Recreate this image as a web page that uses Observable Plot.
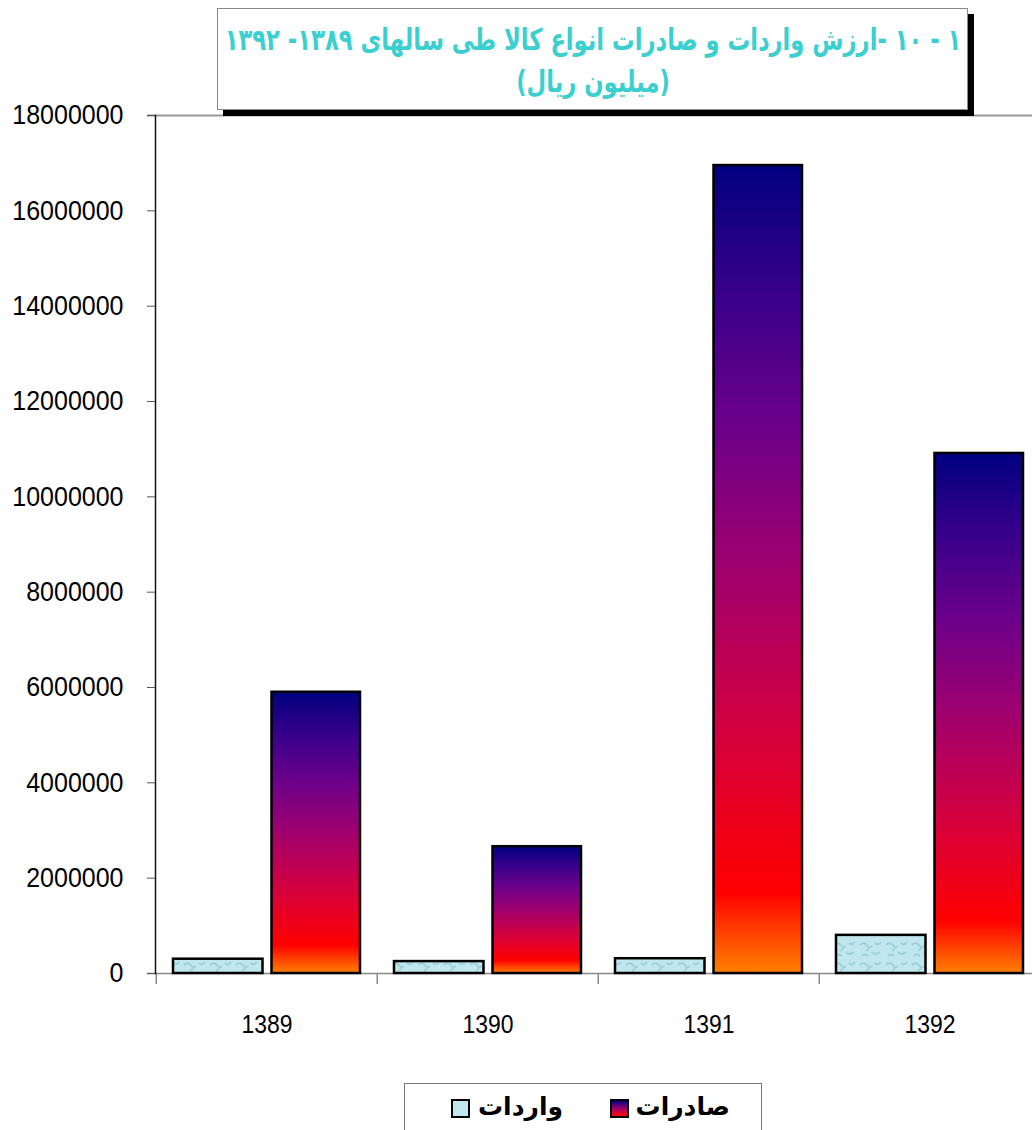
<!DOCTYPE html>
<html lang="fa">
<head>
<meta charset="utf-8">
<script src="https://cdn.jsdelivr.net/npm/d3@7"></script>
<script src="https://cdn.jsdelivr.net/npm/@observablehq/plot@0.6"></script>
<style>
  html, body { margin: 0; padding: 0; background: #fff; overflow: hidden; }
  #page { position: relative; width: 1032px; height: 1130px; }
  #chart { position: absolute; left: 0; top: 0; }
  #title {
    position: absolute; left: 217px; top: 8px; width: 751px; height: 102px;
    border: 1.5px solid #8a8a8a; background: #fff; box-shadow: 6px 6px 0 #000;
    color: #3ccfcf; font-family: "DejaVu Sans", sans-serif; font-weight: bold;
    font-size: 30px; direction: rtl; box-sizing: border-box;
  }
  #title .ln { position: absolute; left: 50%; white-space: nowrap; line-height: 1;
    transform: translate(-50%, -50%) scaleX(0.755); }
  #legend {
    position: absolute; left: 404px; top: 1083px; width: 358px; height: 70px;
    border: 1.5px solid #777; background: #fff; box-sizing: border-box;
    font-family: "DejaVu Sans", sans-serif; font-weight: bold; font-size: 25px; color: #000;
  }
  .lg-item { position: absolute; top: 8px; direction: rtl; white-space: nowrap; }
  .sw { position: absolute; width: 15px; height: 15px; border: 2px solid #000; top: 15px; }
</style>
</head>
<body>
<div id="page">
  <div id="chart"></div>
  <div id="title"></div>
  <div id="legend"></div>
</div>
<script>
// ---- data ----
const years = ["1389", "1390", "1391", "1392"];
const importsValues = [300000, 250000, 310000, 800000];      // واردات
const exportsValues = [5900000, 2660000, 16950000, 10910000]; // صادرات
const yTicks = [0, 2000000, 4000000, 6000000, 8000000, 10000000, 12000000, 14000000, 16000000, 18000000];
const seriesNames = ["واردات", "صادرات"];
const titleLine1 = "۱ - ۱۰ -ارزش واردات و صادرات انواع کالا طی سالهای ۱۳۸۹- ۱۳۹۲";
const titleLine2 = "(میلیون ریال)";

const importsRows = years.map((y, i) => ({year: y, series: seriesNames[0], value: importsValues[i]}));
const exportsRows = years.map((y, i) => ({year: y, series: seriesNames[1], value: exportsValues[i]}));

const bandStep = (1041 - 155) / years.length;

const defs = () => {
  const d = d3.create("svg:defs");
  const g = d.append("linearGradient").attr("id", "expGrad")
    .attr("x1", 0).attr("y1", 1).attr("x2", 0).attr("y2", 0);
  [[0, "#ff8000"], [0.1, "#ff0000"], [0.3, "#d4003f"], [0.5, "#a0006e"], [0.68, "#6c008a"], [0.85, "#36008a"], [1, "#000080"]]
    .forEach(([o, c]) => g.append("stop").attr("offset", o).attr("stop-color", c));
  const p = d.append("pattern").attr("id", "impPat").attr("patternUnits", "userSpaceOnUse")
    .attr("width", 26).attr("height", 20);
  p.append("rect").attr("width", 26).attr("height", 20).attr("fill", "#bfe7ed");
  p.append("path").attr("d", "M2 5 q4 -4 8 1 q2 3 -2 5 M14 12 q3 4 8 0 M4 16 q2 -3 6 0 M17 3 q3 3 6 -1 M11 8 l3 -2")
    .attr("stroke", "#9fd0d9").attr("stroke-width", 1.8).attr("fill", "none");
  return d.node();
};

const chart = Plot.plot({
  width: 1032,
  height: 1060,
  marginTop: 115,
  marginBottom: 87,
  marginLeft: 155,
  marginRight: 0,
  x: {domain: years, range: [155, 1041], padding: 0, label: null},
  y: {domain: [0, 18000000], range: [973, 115], label: null},
  style: {fontFamily: "'Liberation Sans', Arial, sans-serif", background: "transparent", overflow: "visible", color: "#000"},
  marks: [
    defs,
    Plot.ruleY([18000000], {stroke: "#999", strokeWidth: 2, insetLeft: -8}),
    Plot.ruleY([0], {stroke: "#888", strokeWidth: 1.5, insetLeft: -8}),
    Plot.barY(importsRows, {x: "year", y: "value", fill: "url(#impPat)", stroke: "#000", strokeWidth: 2.5,
      insetLeft: 17, insetRight: bandStep - 17 - 90}),
    Plot.barY(exportsRows, {x: "year", y: "value", fill: "url(#expGrad)", stroke: "#000", strokeWidth: 2.5,
      insetLeft: bandStep - 17 - 89, insetRight: 17}),
    Plot.ruleX(years, {x: d => d, dx: -bandStep / 2, y1: 0, y2: -230000, stroke: "#888", strokeWidth: 1.5}),
    Plot.frame({anchor: "left", stroke: "#111", strokeWidth: 1.5}),
    Plot.axisY(yTicks, {tickSize: 8, tickPadding: 24, tickFormat: d => String(d), fontSize: 28, stroke: "#555", label: null}),
    Plot.axisX({tickSize: 0, tickPadding: 41, fontSize: 26, label: null})
  ]
});
document.getElementById("chart").appendChild(chart);

// narrow the tick labels to match the condensed face of the original
chart.querySelectorAll('g[aria-label="y-axis tick label"] text').forEach(el => {
  el.setAttribute("textLength", el.textContent.length * 13.9);
  el.setAttribute("lengthAdjust", "spacingAndGlyphs");
});
chart.querySelectorAll('g[aria-label="x-axis tick label"] text').forEach(el => {
  el.setAttribute("textLength", el.textContent.length * 12.75);
  el.setAttribute("lengthAdjust", "spacingAndGlyphs");
});

// title
const t = document.getElementById("title");
[[titleLine1, 31], [titleLine2, 73]].forEach(([s, top]) => {
  const l = document.createElement("div"); l.className = "ln"; l.textContent = s;
  l.style.top = top + "px"; t.appendChild(l);
});

// legend (RTL: صادرات first on the right, then واردات)
const lg = document.getElementById("legend");
const t1 = document.createElement("span"); t1.className = "lg-item"; t1.textContent = seriesNames[1];
t1.style.right = (762 - 731) + "px"; lg.appendChild(t1);
const s1 = document.createElement("span"); s1.className = "sw"; s1.style.left = (610 - 405) + "px";
s1.style.background = "linear-gradient(to top, #ff0000, #a0006e 50%, #000080)"; lg.appendChild(s1);
const t2 = document.createElement("span"); t2.className = "lg-item"; t2.textContent = seriesNames[0];
t2.style.right = (762 - 564) + "px"; lg.appendChild(t2);
const s2 = document.createElement("span"); s2.className = "sw"; s2.style.left = (451 - 405) + "px";
s2.style.background = "#bfe7ed"; lg.appendChild(s2);
</script>
</body>
</html>
